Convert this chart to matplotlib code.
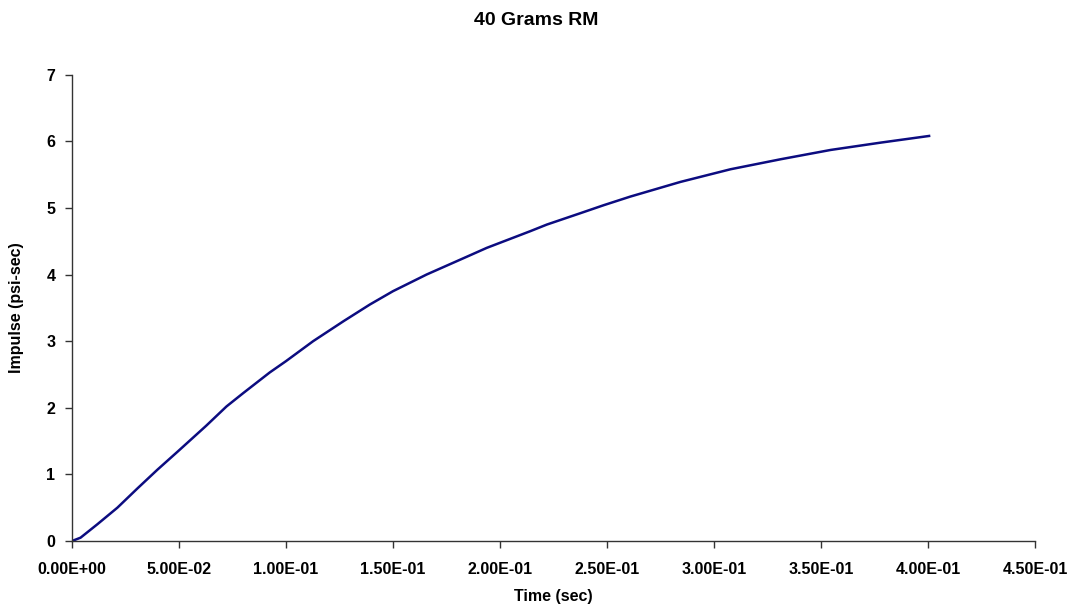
import numpy as np
import matplotlib
matplotlib.use('Agg')
import matplotlib.pyplot as plt
from matplotlib.ticker import FuncFormatter

plt.rcParams['font.family'] = ['Liberation Sans', 'DejaVu Sans']
plt.rcParams['font.weight'] = 'bold'

# values
time_sec = [0.0, 0.004, 0.0118, 0.0212, 0.0306, 0.0399, 0.0493, 0.0627, 0.0722,
            0.08, 0.0924, 0.10, 0.1127, 0.1269, 0.1392, 0.15, 0.1657, 0.1847,
            0.1938, 0.2141, 0.2219, 0.2375, 0.2484, 0.2609, 0.2843, 0.3077,
            0.3311, 0.3545, 0.3779, 0.4005]
impulse = [0.0, 0.05, 0.25, 0.50, 0.79, 1.07, 1.34, 1.73, 2.02,
           2.22, 2.53, 2.70, 3.00, 3.30, 3.55, 3.75, 4.00, 4.27,
           4.40, 4.65, 4.75, 4.92, 5.04, 5.17, 5.39, 5.58,
           5.73, 5.87, 5.98, 6.08]

xticks = np.arange(0, 0.4501, 0.05)
yticks = np.arange(0, 8, 1)

fig = plt.figure(figsize=(10.73, 6.12), dpi=100)
ax = fig.add_axes([0.0671, 0.116, 0.8975, 0.762])

ax.plot(time_sec, impulse, color='#0c0c80', lw=1.8)

ax.set_xlim(0, 0.45)
ax.set_ylim(0, 7)
ax.set_xticks(xticks)
ax.set_yticks(yticks)
ax.xaxis.set_major_formatter(FuncFormatter(lambda v, p: '{:.2E}'.format(v)))

for s in ['top', 'right']:
    ax.spines[s].set_visible(False)
for s in ['left', 'bottom']:
    ax.spines[s].set_color('#333333')
    ax.spines[s].set_linewidth(1.0)

ax.tick_params(axis='x', length=5, width=1, color='#333333', pad=10, labelsize=11.5)
ax.tick_params(axis='y', length=5, width=1, color='#333333', pad=7, labelsize=11.5)

ax.set_xlabel('Time (sec)', fontsize=11.5, fontweight='bold', labelpad=9)
ax.set_ylabel('Impulse (psi-sec)', fontsize=11.5, fontweight='bold')
ax.yaxis.set_label_coords(-0.05, 0.5)
fig.suptitle('40 Grams RM', fontsize=14, fontweight='bold', x=0.5, y=0.98, va='top')

fig.savefig('out.png', dpi=100, facecolor='white')
